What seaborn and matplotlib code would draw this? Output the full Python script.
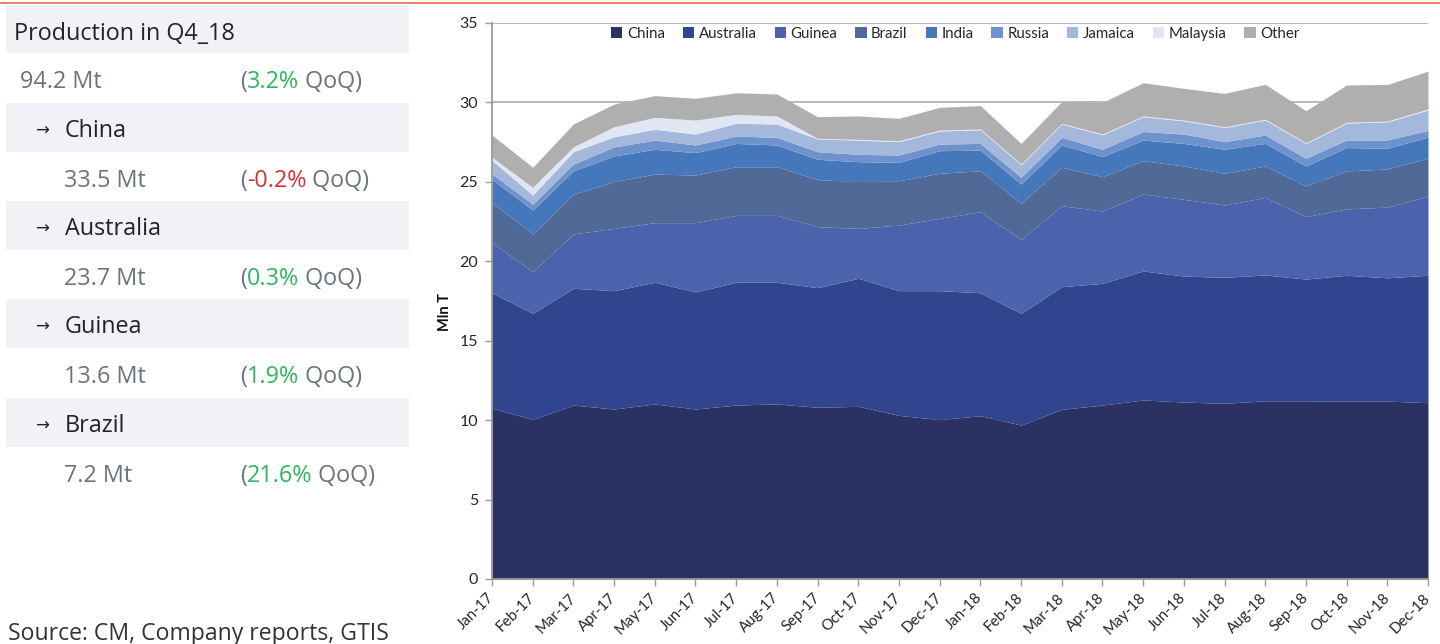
import matplotlib
matplotlib.use("Agg")
import matplotlib.pyplot as plt
from matplotlib.patches import Rectangle
from matplotlib.lines import Line2D
import numpy as np
import pandas as pd
import seaborn as sns

# ---- monthly bauxite production, Mln T ----
months = ["Jan-17", "Feb-17", "Mar-17", "Apr-17", "May-17", "Jun-17", "Jul-17", "Aug-17",
          "Sep-17", "Oct-17", "Nov-17", "Dec-17", "Jan-18", "Feb-18", "Mar-18", "Apr-18",
          "May-18", "Jun-18", "Jul-18", "Aug-18", "Sep-18", "Oct-18", "Nov-18", "Dec-18"]

china = [10.75, 10.05, 10.95, 10.70, 11.02, 10.70, 10.95, 11.02, 10.81, 10.87, 10.30, 10.03,
         10.28, 9.69, 10.68, 10.95, 11.27, 11.14, 11.06, 11.22, 11.22, 11.20, 11.20, 11.10]
australia = [7.27, 6.67, 7.35, 7.45, 7.66, 7.37, 7.73, 7.66, 7.53, 8.06, 7.85, 8.12,
             7.74, 7.03, 7.72, 7.66, 8.12, 7.93, 7.93, 7.92, 7.66, 7.92, 7.76, 8.02]
guinea = [3.15, 2.63, 3.42, 3.92, 3.75, 4.36, 4.21, 4.21, 3.84, 3.14, 4.13, 4.55,
          5.10, 4.66, 5.10, 4.55, 4.84, 4.83, 4.55, 4.89, 3.93, 4.18, 4.45, 4.97]
brazil = [2.52, 2.37, 2.51, 2.94, 3.06, 3.00, 3.06, 3.06, 2.96, 2.94, 2.79, 2.84,
          2.58, 2.27, 2.42, 2.17, 2.10, 2.10, 2.00, 1.97, 1.93, 2.39, 2.40, 2.41]
india = [1.46, 1.51, 1.47, 1.62, 1.56, 1.41, 1.47, 1.37, 1.28, 1.26, 1.16, 1.42,
         1.30, 1.21, 1.40, 1.26, 1.30, 1.42, 1.51, 1.42, 1.26, 1.47, 1.30, 1.32]
russia = [0.35, 0.37, 0.42, 0.57, 0.58, 0.48, 0.47, 0.48, 0.48, 0.46, 0.46, 0.42,
          0.42, 0.43, 0.48, 0.46, 0.54, 0.59, 0.48, 0.53, 0.48, 0.48, 0.53, 0.42]
jamaica = [0.85, 0.57, 0.78, 0.64, 0.68, 0.69, 0.80, 0.84, 0.80, 0.90, 0.84, 0.82,
           0.86, 0.78, 0.84, 0.91, 0.93, 0.83, 0.89, 0.94, 0.93, 1.06, 1.14, 1.28]
malaysia = [0.20, 0.49, 0.31, 0.63, 0.75, 0.88, 0.56, 0.51, 0.04, 0.05, 0.06, 0.06,
            0.05, 0.05, 0.05, 0.05, 0.05, 0.05, 0.05, 0.05, 0.05, 0.05, 0.05, 0.07]
other = [1.40, 1.26, 1.43, 1.43, 1.37, 1.37, 1.36, 1.38, 1.36, 1.47, 1.41, 1.43,
         1.47, 1.30, 1.36, 1.99, 2.09, 2.00, 2.10, 2.20, 2.02, 2.35, 2.30, 2.38]

series_names = ["China", "Australia", "Guinea", "Brazil", "India",
                "Russia", "Jamaica", "Malaysia", "Other"]
series_colors = ["#2b3263", "#31458f", "#4964ac", "#506996", "#4577bb",
                 "#6e93cc", "#a3b8da", "#e1e6f2", "#afafaf"]

# ---- quarterly summary panel ----
summary_title = "Production in Q4_18"
total_value = "94.2 Mt"
total_change = "3.2%"
country_rows = ["China", "Australia", "Guinea", "Brazil"]
country_values = ["33.5 Mt", "23.7 Mt", "13.6 Mt", "7.2 Mt"]
country_changes = ["-0.2%", "0.3%", "1.9%", "21.6%"]
source_note = "Source: CM, Company reports, GTIS"

sns.set_theme(style="white")
plt.rcParams["font.family"] = ["Lato", "DejaVu Sans"]

W, H = 1440, 644
fig = plt.figure(figsize=(W / 100, H / 100), dpi=100)


def fx(px):
    return px / W


def fy(py):
    return 1 - py / H


# thin accent rule along the top
fig.add_artist(Line2D([0, 1], [fy(3), fy(3)], color="#ef6a4c", linewidth=1.2))

# ---- left panel ----
panel_font = ["Open Sans", "DejaVu Sans"]
band_color = "#f1f2f7"
grey_txt = "#6b737c"
dark_txt = "#232323"
green = "#2db75b"
red = "#cf3432"

bands = [(5, 53), (103, 152), (201, 250), (299, 348), (398, 447)]
for top, bot in bands:
    fig.add_artist(Rectangle((fx(6), fy(bot)), fx(409) - fx(6), fy(top) - fy(bot),
                             transform=fig.transFigure, facecolor=band_color,
                             edgecolor="none", zorder=0))

renderer = fig.canvas.get_renderer()
FS = 16.8


def pieces(x_px, base_px, parts, size=FS):
    x = fx(x_px)
    for s, c in parts:
        t = fig.text(x, fy(base_px), s, color=c, fontsize=size, family=panel_font,
                     ha="left", va="baseline")
        bb = t.get_window_extent(renderer=renderer)
        x = fig.transFigure.inverted().transform((bb.x1, bb.y0))[0]


fig.text(fx(14), fy(39.5), summary_title, color=dark_txt, fontsize=FS,
         family=panel_font, ha="left", va="baseline")

pieces(20, 88, [(total_value, grey_txt)])
pieces(240, 88, [("(", grey_txt), (total_change, green), (" QoQ)", grey_txt)])

name_base = [137, 235, 333, 432]
value_base = [187, 285, 383, 482]
for name, val, chg, nb, vb in zip(country_rows, country_values, country_changes,
                                  name_base, value_base):
    fig.text(fx(35), fy(nb - 1), "\u2192", color=dark_txt, fontsize=12,
             family=["DejaVu Sans"], ha="left", va="baseline")
    fig.text(fx(65), fy(nb), name, color=dark_txt, fontsize=FS,
             family=panel_font, ha="left", va="baseline")
    pieces(64, vb, [(val, grey_txt)])
    chg_color = red if chg.startswith("-") else green
    pieces(240, vb, [("(", grey_txt), (chg, chg_color), (" QoQ)", grey_txt)])

fig.text(fx(8), fy(640), source_note, color="#333333", fontsize=16.6,
         family=panel_font, ha="left", va="baseline")

# ---- stacked area chart ----
ax = fig.add_axes([fx(492), fy(579), fx(1428) - fx(492), fy(23) - fy(579)])
df = pd.DataFrame({"China": china, "Australia": australia, "Guinea": guinea,
                   "Brazil": brazil, "India": india, "Russia": russia,
                   "Jamaica": jamaica, "Malaysia": malaysia, "Other": other},
                  index=months)
x = np.arange(len(months))
ax.stackplot(x, df[series_names].T.values, colors=series_colors,
             labels=series_names, linewidth=0, zorder=2)

ax.set_xlim(0, len(months) - 1)
ax.set_ylim(0, 35)
ax.set_yticks(range(0, 36, 5))
ax.set_xticks(x)
ax.set_xticklabels(months, rotation=45, ha="right", va="center",
                   rotation_mode="anchor", fontsize=10.8)
ax.tick_params(axis="y", labelsize=11.5, length=5, width=1, color="#9a9a9a",
               direction="out", left=True, pad=5)
ax.tick_params(axis="x", length=5, width=1, color="#9a9a9a", direction="out",
               bottom=True, pad=7)
ax.yaxis.grid(True, color="#a6a6a6", linewidth=1.1, zorder=0)
ax.xaxis.grid(False)
ax.set_axisbelow(True)
sns.despine(ax=ax, top=True, right=True)
for side in ("left", "bottom"):
    ax.spines[side].set_color("#9a9a9a")
    ax.spines[side].set_linewidth(1.3)
ax.set_facecolor("white")

fig.text(fx(445), fy(312), "Mln T", rotation=90, fontsize=10.5, fontweight="bold",
         ha="center", va="center", color="#111111")

handles = [Rectangle((0, 0), 1, 1, facecolor=c, edgecolor="none") for c in series_colors]
ax.legend(handles, series_names, ncol=9, loc="center", bbox_to_anchor=(0.495, 0.981),
          frameon=False, fontsize=10.8, handlelength=0.75, handleheight=0.75,
          handletextpad=0.3, columnspacing=1.2, borderaxespad=0)

fig.savefig("out.png", dpi=100, facecolor="white")
